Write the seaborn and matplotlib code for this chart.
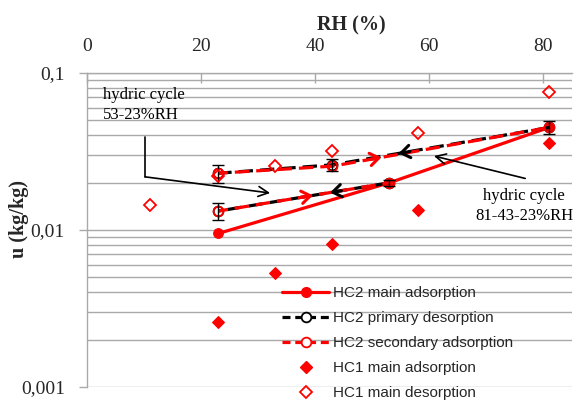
import numpy as np
import pandas as pd
import matplotlib
matplotlib.use("Agg")
import matplotlib.pyplot as plt
from matplotlib.lines import Line2D
from matplotlib.ticker import FixedLocator, FuncFormatter, LogLocator, NullFormatter
import seaborn as sns

# ---- HC2 : second hydric cycle -------------------------------------------
main_ads_rh = [23, 53, 81]
main_ads_u = [0.0095, 0.020, 0.045]

# primary desorption, two branches: 81 -> 43 -> 23 and 53 -> 23
prim_des_rh = [81, 43, 23, 53, 23]
prim_des_u = [0.045, 0.026, 0.023, 0.020, 0.0132]
prim_des_branch = [1, 1, 1, 2, 2]
prim_des_err = [0.0043, 0.0022, 0.0030, 0.0008, 0.0016]

# secondary adsorption, two branches: 23 -> 43 -> 81 and 23 -> 53
sec_ads_rh = [23, 43, 81, 23, 53]
sec_ads_u = [0.023, 0.0255, 0.045, 0.0132, 0.020]
sec_ads_branch = [1, 1, 1, 2, 2]

# ---- HC1 : first hydric cycle --------------------------------------------
hc1_ads_rh = [23, 33, 43, 58, 81]
hc1_ads_u = [0.0026, 0.0053, 0.0081, 0.0134, 0.036]
hc1_des_rh = [11, 23, 33, 43, 58, 81]
hc1_des_u = [0.0145, 0.0222, 0.0255, 0.032, 0.0417, 0.0754]

series_labels = ["HC2 main adsorption", "HC2 primary desorption",
                 "HC2 secondary adsorption", "HC1 main adsorption",
                 "HC1 main desorption"]

x_ticks = [0, 20, 40, 60, 80]
y_ticks = [0.001, 0.01, 0.1]

RED = "#ff0000"
GRID = "#a9a9a9"
SERIF = ["Liberation Serif", "DejaVu Serif"]
SANS = ["Liberation Sans", "DejaVu Sans"]

sns.set_theme(style="white")
plt.rcParams["font.family"] = SERIF

fig = plt.figure(figsize=(5.8, 4.01), dpi=100)
ax = fig.add_axes([87 / 580, 1 - 387 / 401, (572 - 87) / 580, (387 - 73) / 401])
ax.set_yscale("log")
ax.set_xlim(0, 85)
ax.set_ylim(0.001, 0.1)

# HC2 main adsorption
df_main = pd.DataFrame({"RH": main_ads_rh, "u": main_ads_u})
sns.lineplot(data=df_main, x="RH", y="u", sort=False, estimator=None, ax=ax,
             color=RED, lw=2.3, marker="o", ms=7, mfc=RED, mec=RED,
             legend=False, zorder=3)

# HC2 primary desorption (black dashes)
df_des = pd.DataFrame({"RH": prim_des_rh, "u": prim_des_u, "branch": prim_des_branch})
n0 = len(ax.lines)
sns.lineplot(data=df_des, x="RH", y="u", units="branch", sort=False, estimator=None,
             ax=ax, color="black", lw=2.3, marker="o", ms=7, mfc="none",
             mec="black", mew=1.3, legend=False, zorder=4)
for ln in ax.lines[n0:]:
    ln.set_dashes((4.5, 2.2))

# HC2 secondary adsorption (red dashes drawn over the black ones)
df_sec = pd.DataFrame({"RH": sec_ads_rh, "u": sec_ads_u, "branch": sec_ads_branch})
n0 = len(ax.lines)
sns.lineplot(data=df_sec, x="RH", y="u", units="branch", sort=False, estimator=None,
             ax=ax, color=RED, lw=2.3, marker="o", ms=7, mfc="none",
             mec=RED, mew=1.3, legend=False, zorder=5)
for ln in ax.lines[n0:]:
    ln.set_linestyle((1.5, (4.5, 2.2)))

# error bars of the HC2 desorption points
ax.errorbar(prim_des_rh, prim_des_u, yerr=prim_des_err, fmt="none",
            ecolor="black", elinewidth=1.0, capsize=4, capthick=1.0, zorder=6)

# HC1 points
df_h1a = pd.DataFrame({"RH": hc1_ads_rh, "u": hc1_ads_u})
sns.lineplot(data=df_h1a, x="RH", y="u", estimator=None, ax=ax, linestyle="",
             marker="D", ms=6.5, mfc=RED, mec=RED, color=RED, legend=False, zorder=7)
df_h1d = pd.DataFrame({"RH": hc1_des_rh, "u": hc1_des_u})
sns.lineplot(data=df_h1d, x="RH", y="u", estimator=None, ax=ax, linestyle="",
             marker="D", ms=6.5, mfc="none", mec=RED, mew=1.3, color=RED,
             legend=False, zorder=7)


# direction chevrons along the HC2 loops
def log_interp(rh, xs, us):
    return 10 ** np.interp(rh, xs, np.log10(us))


chevrons = [
    # (RH of tip, branch x, branch u, colour, direction)
    (39.6, [23, 53], [0.0132, 0.020], RED, +1),
    (42.6, [23, 53], [0.0132, 0.020], "black", -1),
    (51.6, [43, 81], [0.0255, 0.045], RED, +1),
    (54.6, [43, 81], [0.026, 0.045], "black", -1),
]
for rh, xs, us, col, d in chevrons:
    tail = rh - 2.0 * d
    ax.annotate("", xy=(rh, log_interp(rh, xs, us)),
                xytext=(tail, log_interp(tail, xs, us)),
                arrowprops=dict(arrowstyle="->,head_length=0.45,head_width=0.32",
                                color=col, lw=2.2, mutation_scale=14,
                                shrinkA=0, shrinkB=0),
                zorder=8)

# hydric cycle annotations
ax.text(2.8, 0.0625, "hydric cycle\n53-23%RH", ha="left", va="center",
        fontsize=12, linespacing=1.35, family=SERIF, color="black", zorder=9)
ax.plot([10.2, 10.2], [0.0391, 0.0218], color="black", lw=1.2, zorder=9)
ax.annotate("", xy=(32.1, 0.0172), xytext=(10.2, 0.0218),
            arrowprops=dict(arrowstyle="->,head_length=0.6,head_width=0.3",
                            color="black", lw=1.2, mutation_scale=12,
                            shrinkA=0, shrinkB=0), zorder=9)

ax.text(76.6, 0.01422, "hydric cycle\n81-43-23%RH", ha="center", va="center",
        multialignment="center", fontsize=12, linespacing=1.35, family=SERIF,
        color="black", zorder=9)
ax.annotate("", xy=(60.8, 0.0296), xytext=(76.8, 0.0213),
            arrowprops=dict(arrowstyle="->,head_length=0.6,head_width=0.3",
                            color="black", lw=1.2, mutation_scale=12,
                            shrinkA=0, shrinkB=0), zorder=9)

# axes styling
ax.xaxis.tick_top()
ax.xaxis.set_label_position("top")
ax.xaxis.set_major_locator(FixedLocator(x_ticks))
ax.tick_params(axis="x", which="major", direction="in", length=7, width=1,
               color=GRID, pad=13, labelsize=14, top=True, bottom=False)
ax.yaxis.set_major_locator(FixedLocator(y_ticks))
ax.yaxis.set_minor_locator(LogLocator(base=10, subs=np.arange(2, 10)))
ax.yaxis.set_major_formatter(FuncFormatter(lambda v, p: f"{v:g}".replace(".", ",")))
ax.yaxis.set_minor_formatter(NullFormatter())
ax.tick_params(axis="y", which="major", direction="out", length=6, width=1,
               color=GRID, pad=10, labelsize=14, left=True)
ax.tick_params(axis="y", which="minor", length=0)
ax.grid(True, axis="y", which="both", color=GRID, lw=1.0)
ax.grid(False, axis="x")
for side in ("right", "bottom"):
    ax.spines[side].set_visible(False)
for side in ("left", "top"):
    ax.spines[side].set_color(GRID)
    ax.spines[side].set_linewidth(1.0)

ax.set_xlabel("RH (%)", fontsize=14.5, fontweight="bold", family=SERIF)
ax.xaxis.set_label_coords(0.546, 1.135)
ax.set_ylabel("u (kg/kg)", fontsize=14.5, fontweight="bold", family=SERIF)
ax.yaxis.set_label_coords(-0.12, 0.535)

# legend
handles = [
    Line2D([], [], color=RED, lw=2.3, marker="o", ms=7, mfc=RED, mec=RED),
    Line2D([], [], color="black", lw=2.3, dashes=(2.5, 1.5), marker="o", ms=7,
           mfc="white", mec="black", mew=1.3),
    Line2D([], [], color=RED, lw=2.3, dashes=(2.5, 1.5), marker="o", ms=7,
           mfc="white", mec=RED, mew=1.3),
    Line2D([], [], linestyle="", marker="D", ms=6.5, mfc=RED, mec=RED),
    Line2D([], [], linestyle="", marker="D", ms=6.5, mfc="none", mec=RED, mew=1.3),
]
leg = fig.legend(handles, series_labels, loc="upper left",
                 bbox_to_anchor=(282 / 580, 1 - 286 / 401), frameon=False,
                 borderpad=0, borderaxespad=0, handlelength=3.1, handletextpad=0.25,
                 labelspacing=0.72, prop={"family": SANS, "size": 11})

fig.savefig("out.png", dpi=100)
